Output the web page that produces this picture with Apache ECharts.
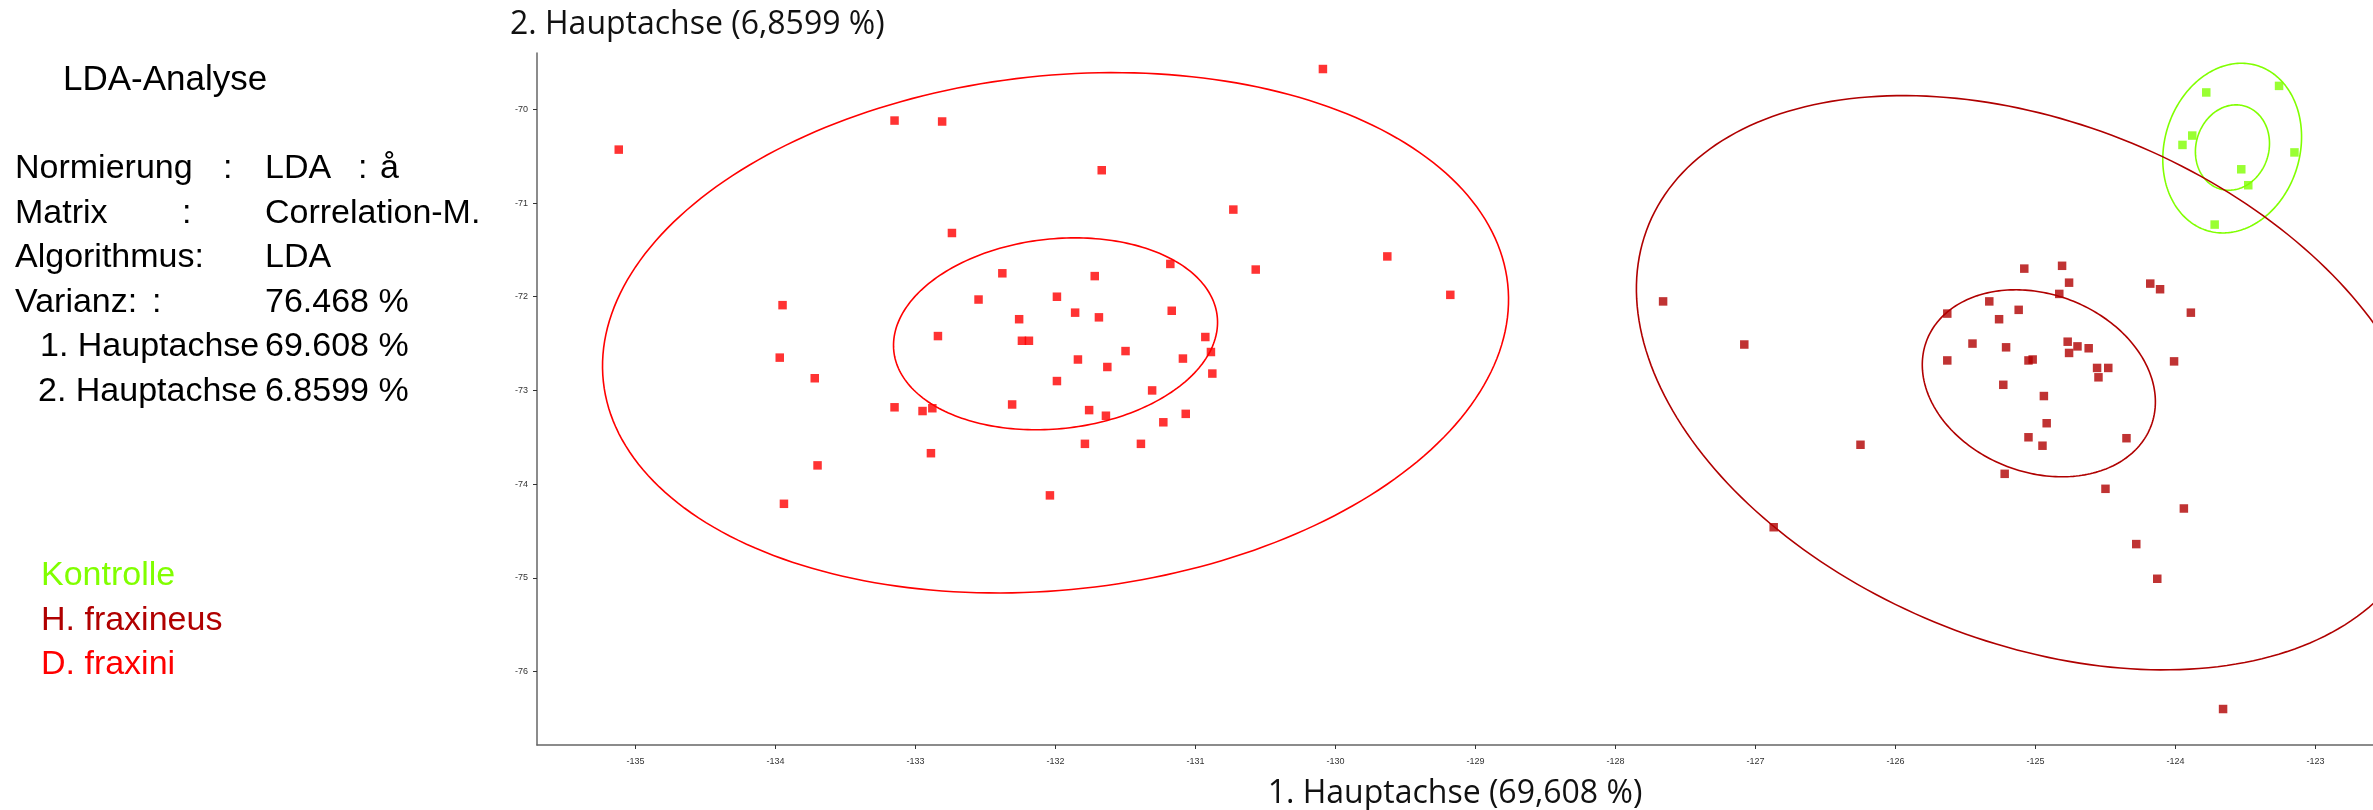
<!DOCTYPE html>
<html>
<head>
<meta charset="utf-8">
<script src="https://cdn.jsdelivr.net/npm/echarts@6/dist/echarts.min.js"></script>
<style>
html,body{margin:0;padding:0;background:#fff;}
#chart{width:2373px;height:810px;}
</style>
</head>
<body>
<div id="chart"></div>
<script>
// ---- tick labels ----
const xTicks = [-135, -134, -133, -132, -131, -130, -129, -128, -127, -126, -125, -124, -123];
const yTicks = [-76, -75, -74, -73, -72, -71, -70];

// ---- series names ----
const groupNames = ['Kontrolle', 'H. fraxineus', 'D. fraxini'];

// ---- points [x, y] ----
const kontrolle = [
  [-123.78,-69.82],[-123.26,-69.75],[-123.88,-70.28],[-123.95,-70.38],
  [-123.15,-70.46],[-123.53,-70.64],[-123.48,-70.81],[-123.72,-71.23]
];
const hFraxineus = [
  [-127.66,-72.05],[-127.08,-72.51],[-126.87,-74.46],[-126.25,-73.58],[-125.63,-72.18],
  [-125.63,-72.68],[-125.45,-72.50],[-125.33,-72.05],[-125.26,-72.24],[-125.21,-72.54],
  [-125.12,-72.14],[-125.08,-71.70],[-125.23,-72.94],[-125.22,-73.89],[-125.05,-72.68],
  [-125.02,-72.67],[-124.94,-73.06],[-124.92,-73.35],[-125.05,-73.50],[-124.95,-73.59],
  [-124.83,-71.97],[-124.81,-71.67],[-124.76,-71.85],[-124.77,-72.48],[-124.76,-72.60],
  [-124.70,-72.53],[-124.62,-72.55],[-124.56,-72.76],[-124.48,-72.76],[-124.55,-72.86],
  [-124.35,-73.51],[-124.50,-74.05],[-124.28,-74.64],[-124.13,-75.01],[-123.94,-74.26],
  [-124.18,-71.86],[-124.11,-71.92],[-123.89,-72.17],[-124.01,-72.69],[-123.66,-76.40]
];
const dFraxini = [
  [-135.12,-70.43],[-133.15,-70.12],[-132.81,-70.13],[-130.09,-69.57],[-131.67,-70.65],
  [-132.74,-71.32],[-130.73,-71.07],[-129.63,-71.57],[-129.18,-71.98],[-130.57,-71.71],
  [-131.18,-71.65],[-133.95,-72.09],[-132.38,-71.75],[-131.72,-71.78],[-132.55,-72.03],
  [-131.99,-72.00],[-131.86,-72.17],[-131.69,-72.22],[-131.17,-72.15],[-132.26,-72.24],
  [-132.84,-72.42],[-132.24,-72.47],[-132.19,-72.47],[-130.93,-72.43],[-131.50,-72.58],
  [-130.89,-72.59],[-133.97,-72.65],[-131.84,-72.67],[-131.09,-72.66],[-131.63,-72.75],
  [-130.88,-72.82],[-133.72,-72.87],[-131.99,-72.90],[-131.31,-73.00],[-133.15,-73.18],
  [-132.95,-73.22],[-132.88,-73.19],[-132.31,-73.15],[-131.76,-73.21],[-131.64,-73.27],
  [-131.07,-73.25],[-131.23,-73.34],[-132.89,-73.67],[-131.79,-73.57],[-131.39,-73.57],
  [-133.70,-73.80],[-132.04,-74.12],[-133.94,-74.21]
];

// ---- confidence ellipses [cx, cy, ux, uy, vx, vy] (conjugate semi-diameters, data units) ----
const kontrolleEllipses = [
  [-123.595,-70.414, 0.177,0.881, -0.463,0.208],
  [-123.593,-70.408, 0.0907,0.441, -0.2486,0.114]
];
const hFraxineusEllipses = [
  [-125.014,-72.918, 2.748,-1.690, 0.704,2.556],
  [-124.976,-72.924, 0.801,-0.457, 0.227,0.887]
];
const dFraxiniEllipses = [
  [-132.0,-72.385, 3.230,0.522, 0.197,-2.727],
  [-132.0,-72.396, 1.155,0.187, 0.073,-1.007]
];

// ---- info panel text ----
const infoTitle = 'LDA-Analyse';
const infoRows = [
  ['Normierung', ':', 'LDA', ':', 'å'],
  ['Matrix', ':', 'Correlation-M.'],
  ['Algorithmus:', '', 'LDA'],
  ['Varianz:', ':', '76.468 %'],
  ['1. Hauptachse', '', '69.608 %'],
  ['2. Hauptachse', '', '6.8599 %']
];

const colors = { 'Kontrolle': '#80ff00', 'H. fraxineus': '#b00000', 'D. fraxini': '#ff0000' };

function ellipseRenderer(color) {
  return function (params, api) {
    const cx = api.value(0), cy = api.value(1);
    const ux = api.value(2), uy = api.value(3), vx = api.value(4), vy = api.value(5);
    const pts = [];
    const n = 240;
    for (let i = 0; i <= n; i++) {
      const t = i / n * Math.PI * 2;
      pts.push(api.coord([cx + ux * Math.cos(t) + vx * Math.sin(t), cy + uy * Math.cos(t) + vy * Math.sin(t)]));
    }
    return { type: 'polyline', shape: { points: pts }, style: { stroke: color, fill: null, lineWidth: 1.6 } };
  };
}

const chart = echarts.init(document.getElementById('chart'), null, { renderer: 'canvas' });

const graphics = [];
const infoFont = 'Liberation Sans, Arial, sans-serif';
graphics.push({ type: 'text', x: 63, y: 80, style: { text: infoTitle, fontSize: 35, fontFamily: infoFont, fill: '#000', align: 'left', verticalAlign: 'middle' } });
const rowY = [169, 214, 258, 302.5, 347, 392];
const col = [
  [15, 223, 265, 358, 380],
  [15, 182, 265],
  [15, 0, 265],
  [15, 152, 265],
  [40, 0, 265],
  [38, 0, 265]
];
infoRows.forEach((row, r) => {
  row.forEach((txt, c) => {
    if (!txt) return;
    graphics.push({ type: 'text', x: col[r][c], y: rowY[r], style: { text: txt, fontSize: 34, fontFamily: infoFont, fill: '#000', align: 'left', verticalAlign: 'middle' } });
  });
});

const series = [];
[[kontrolleEllipses, 'Kontrolle'], [hFraxineusEllipses, 'H. fraxineus'], [dFraxiniEllipses, 'D. fraxini']].forEach(([d, name]) => {
  series.push({
    name: name, type: 'custom', coordinateSystem: 'cartesian2d', clip: true,
    dimensions: ['cx', 'cy', 'ux', 'uy', 'vx', 'vy'], encode: { x: 0, y: 1 },
    renderItem: ellipseRenderer(colors[name]), data: d, silent: true, z: 1
  });
});
[[kontrolle, 'Kontrolle'], [hFraxineus, 'H. fraxineus'], [dFraxini, 'D. fraxini']].forEach(([d, name]) => {
  series.push({
    name: name, type: 'scatter', symbol: 'rect', symbolSize: 8.5,
    itemStyle: { color: colors[name] }, data: d, z: 3
  });
});

chart.setOption({
  animation: false,
  backgroundColor: '#ffffff',
  color: [colors['Kontrolle'], colors['H. fraxineus'], colors['D. fraxini']],
  grid: { left: 537, right: 0, top: 53, bottom: 65, containLabel: false, outerBoundsMode: 'none' },
  legend: {
    orient: 'vertical', left: 31, top: 549, itemWidth: 0, itemHeight: 0, itemGap: 0.5,
    selectedMode: false,
    textStyle: { fontSize: 34, fontFamily: infoFont, lineHeight: 44 },
    data: groupNames.map(n => ({ name: n, icon: 'rect', textStyle: { color: colors[n] } }))
  },
  xAxis: {
    type: 'value', min: -135.704, max: -122.589,
    name: '1. Hauptachse (69,608 %)', nameLocation: 'middle', nameGap: 49,
    nameTextStyle: { fontSize: 32, fontFamily: 'Open Sans', color: '#111', verticalAlign: 'middle' },
    axisLine: { show: true, onZero: false, lineStyle: { color: '#666', width: 1.5 } },
    axisTick: { show: true, length: 4, lineStyle: { color: '#333' }, customValues: xTicks },
    axisLabel: { fontSize: 9, fontFamily: infoFont, color: '#333', margin: 12, customValues: xTicks },
    splitLine: { show: false }
  },
  yAxis: {
    type: 'value', min: -76.784, max: -69.399,
    name: '2. Hauptachse (6,8599 %)', nameLocation: 'end', nameGap: 28,
    nameTextStyle: { fontSize: 32, fontFamily: 'Open Sans', color: '#111', align: 'left', verticalAlign: 'middle', padding: [0, 0, 0, -27] },
    axisLine: { show: true, onZero: false, lineStyle: { color: '#666', width: 1.5 } },
    axisTick: { show: true, length: 4, lineStyle: { color: '#333' }, customValues: yTicks },
    axisLabel: { fontSize: 9, fontFamily: infoFont, color: '#333', margin: 9, padding: [0, 0, 5, 0], customValues: yTicks },
    splitLine: { show: false }
  },
  graphic: graphics,
  series: series
});
</script>
</body>
</html>
